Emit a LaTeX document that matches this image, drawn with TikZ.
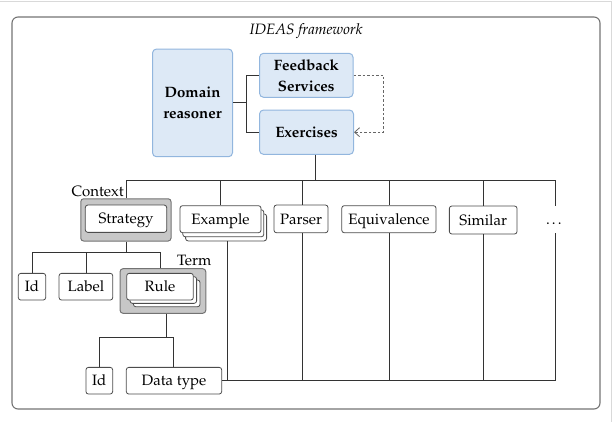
\documentclass[tikz,border=0pt]{standalone}
\usepackage[T1]{fontenc}
\usepackage{mathpazo}
\usetikzlibrary{arrows.meta}
\definecolor{bluefill}{HTML}{DDE9F6}
\definecolor{blueline}{HTML}{92B6DE}
\definecolor{lnk}{HTML}{333333}
\tikzset{
  txt/.style={font=\fontsize{15}{21}\selectfont},
  bluebox/.style={font=\fontsize{15}{21}\selectfont\bfseries, draw=blueline, fill=bluefill, line width=1pt, rounded corners=4pt, align=center, inner sep=0pt},
  wbox/.style={txt, draw=black!70, fill=white, line width=0.8pt, rounded corners=2.5pt, inner sep=0pt, text height=10.4pt, text depth=0pt},
  graybox/.style={draw=black!55, fill=black!22, line width=1pt, rounded corners=3pt, inner sep=0pt},
  conn/.style={draw=lnk, line width=0.8pt},
  frame/.style={draw=black!55, line width=1.1pt, rounded corners=6pt},
}
\begin{document}
\begin{tikzpicture}[x=1pt,y=-1pt]
\useasboundingbox (0,0) rectangle (615,422);
% page edges
\draw[black!15, line width=1pt] (0,1.5) -- (611.5,1.5) -- (611.5,422);
% outer frame
\draw[frame] (12,17) rectangle (600,409);
\node[font=\fontsize{15}{18}\selectfont\itshape] (title) at (306,31) {IDEAS framework};

% top blue boxes
\node[bluebox, minimum width=80pt, minimum height=107.7pt] (dom) at (192.5,102.9) {Domain\\reasoner};
\node[bluebox, minimum width=93.5pt, minimum height=44pt] (fb) at (306.3,75.3) {Feedback\\Services};
\node[bluebox, minimum width=94pt, minimum height=44.3pt, text height=10.4pt, text depth=0pt] (ex) at (306.5,132.2) {Exercises};
\coordinate (j) at (246.3,102.9);
\draw[conn] (dom.east) -- (j);
\draw[conn] (fb.west) -| (j) |- (ex.west);
\coordinate (dt) at (383.5,75.3);
\draw[black!60, line width=0.8pt, dashed, dash pattern=on 2.5pt off 2pt, -{Straight Barb[length=5pt,width=9pt]}] (fb.east) -- (dt) |- (ex.east);

% middle row
\node[graybox, minimum width=90.3pt, minimum height=42.3pt] (ctx) at (125.9,219.9) {};
\node[wbox, minimum width=81.4pt, minimum height=27.3pt] (strat) at (126,218.7) {Strategy};
\node[txt, anchor=east, inner sep=0pt] (ctxl) at (124,191) {Context};

\node[wbox, minimum width=81pt, minimum height=27pt] (exm3) at (226.1,227.4) {};
\node[wbox, minimum width=81pt, minimum height=27pt] (exm2) at (223.3,223.3) {};
\node[wbox, minimum width=81pt, minimum height=27pt] (exm) at (220.5,219.2) {Example};

\node[wbox, minimum width=54pt, minimum height=27.7pt] (pars) at (301,218.9) {Parser};
\node[wbox, minimum width=94.3pt, minimum height=27pt] (equ) at (388.9,219.2) {Equivalence};
\node[wbox, minimum width=67.7pt, minimum height=28pt] (sim) at (483.2,220) {Similar};
\node[txt, minimum height=27pt, inner sep=0pt, text height=10.4pt, text depth=0pt] (dots) at (555,219.5) {\dots};

% buses
\coordinate (exb) at (315,180);
\draw[conn] (ex.south -| exb) -- (exb);
\draw[conn] (126,180) -- (555,180);
\draw[conn] (126,180) -- (ctx.north -| 126,0);
\draw[conn] (exm.north) -- (exm.north |- 0,180);
\draw[conn] (302,180) -- (pars.north -| 302,0);
\draw[conn] (389,180) -- (equ.north -| 389,0);
\draw[conn] (483,180) -- (sim.north -| 483,0);
\draw[conn] (555,180) -- (dots.north);

% lower left
\node[wbox, minimum width=27.4pt, minimum height=26.7pt] (id1) at (32,286.7) {Id};
\node[wbox, minimum width=53.7pt, minimum height=26.7pt] (lab) at (85.9,286.7) {Label};
\node[graybox, minimum width=85.7pt, minimum height=44.6pt] (term) at (162.9,291) {};
\node[txt, inner sep=0pt] (terml) at (194.2,260.7) {Term};
\node[wbox, minimum width=66.6pt, minimum height=26.7pt] (rule3) at (166.7,293.4) {};
\node[wbox, minimum width=66.6pt, minimum height=26.7pt] (rule2) at (163.3,290) {};
\node[wbox, minimum width=66.6pt, minimum height=26.7pt] (rule) at (160,286.7) {Rule};
\node[wbox, minimum width=26.7pt, minimum height=26.7pt] (id2) at (99.3,380.7) {Id};
\node[wbox, minimum width=95.4pt, minimum height=26.7pt] (dtype) at (174,380.7) {Data type};

\coordinate (h1) at (126,252.7);
\draw[conn] (ctx.south -| h1) -- (h1);
\draw[conn] (id1.north) |- (h1) -| (term.north -| 160.3,0);
\draw[conn] (lab.north) -- (lab.north |- h1);
\coordinate (h2) at (166,337.3);
\draw[conn] (term.south -| h2) -- (h2);
\draw[conn] (id2.north) |- (h2) -| (dtype.north -| 173.7,0);

% bottom bus
\draw[conn] (dtype.east) -- (555,380.7);
\draw[conn] (exm3.south -| 227,0) -- (227,380.7);
\draw[conn] (pars.south -| 302,0) -- (302,380.7);
\draw[conn] (equ.south -| 389,0) -- (389,380.7);
\draw[conn] (sim.south -| 483,0) -- (483,380.7);
\draw[conn] (dots.south) -- (555,380.7);
\end{tikzpicture}
\end{document}
